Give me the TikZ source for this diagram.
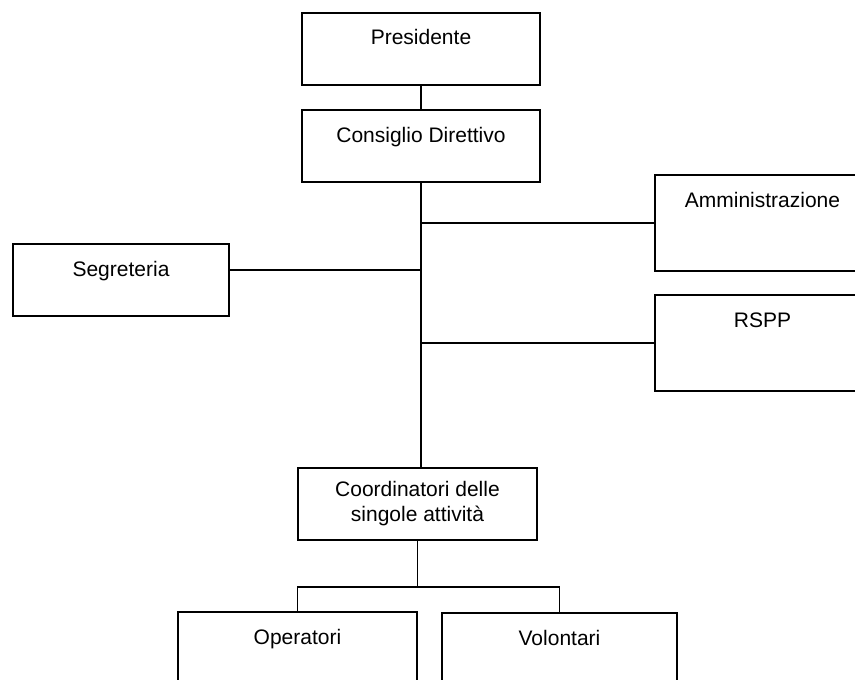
\documentclass[tikz,border=0pt]{standalone}
\usepackage{fontspec}
\setmainfont{Liberation Sans}
\begin{document}
\begin{tikzpicture}[x=1pt,y=-1pt,
  every node/.style={font=\fontsize{21}{25}\selectfont},
  box/.style={draw, line width=1.5pt, rectangle, inner sep=0pt, outer sep=0pt,
    anchor=north west, align=center},
  topbox/.style={box, text height=32pt, text depth=#1},
  conn/.style={line width=1.5pt}]
\useasboundingbox (0,0) rectangle (855,680);
\clip (0,0) rectangle (855,680);
\fill[white] (0,0) rectangle (855,680);
\node[topbox=40pt, minimum width=238pt] (pres) at (302,13) {Presidente};
\node[topbox=40pt, minimum width=238pt] (cons) at (302,110) {Consiglio Direttivo};
\node[topbox=64pt, minimum width=215pt] (adm) at (655,175) {Amministrazione};
\node[topbox=64pt, minimum width=215pt] (rspp) at (655,295) {RSPP};
\node[topbox=40pt, minimum width=216pt] (segr) at (13,244) {Segreteria};
\node[box, minimum width=239pt, minimum height=72pt] (coord) at (298,468) {Coordinatori delle\\singole attività};
\node[topbox=36.5pt, minimum width=239pt] (oper) at (178,612) {Operatori};
\node[topbox=35.5pt, minimum width=235pt] (vol) at (442,613) {Volontari};
\coordinate (bar) at (0,587);
\draw[conn] (pres.south) -- (cons.north);
\draw[conn] (cons.south) -- (cons.south |- coord.north);
\draw[conn] (adm.west) -- (adm.west -| cons.south);
\draw[conn] (rspp.west) -- (rspp.west -| cons.south);
\draw[conn] ([yshift=10pt]segr.east) -- ([yshift=10pt]segr.east -| cons.south);
\draw[conn] (coord.south) -- (coord.south |- bar);
\draw[conn] (oper.north) |- (vol.north |- bar) -- (vol.north);
\end{tikzpicture}
\end{document}
